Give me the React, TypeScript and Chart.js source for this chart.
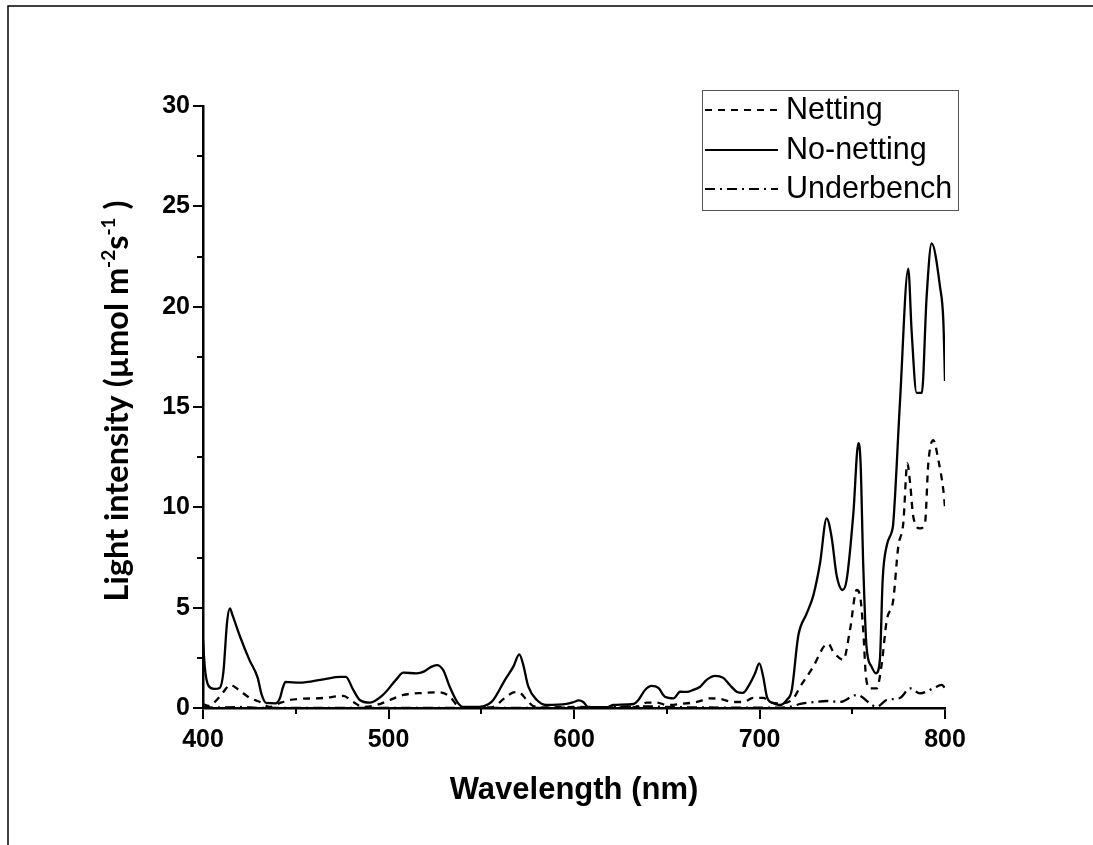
import React, { useEffect, useRef } from "react";
import { Chart, registerables } from "chart.js";

Chart.register(...registerables);

// ---------- data ----------
const noNettingNm = [
  400, 401, 403, 406, 409, 411, 413, 414.5, 416, 420, 425, 429.5, 431.5, 434, 439, 441.5, 443, 444.5,
  452, 465, 474, 477, 481, 484.5, 490, 497, 504, 508, 515, 519, 523, 526, 529.5, 533, 537, 540, 549,
  554, 556.5, 562.8, 567.3, 570.5, 572.5, 575.4, 580, 585, 596, 600, 602.5, 605, 607.7, 617.6, 621,
  632, 634.7, 638.3, 641.9, 645.5, 649, 653.6, 657.2, 660.8, 664.3, 668, 671.5, 676, 680.5, 684,
  687.7, 691, 694.9, 697.6, 699.9, 702, 704, 707.5, 711, 714.7, 717.4, 720.9, 725.4, 729, 732.6,
  736.2, 738.9, 741.6, 744.8, 747, 750.6, 753.3, 754.5, 755.9, 757.7, 760.4, 762.8, 764.9, 766.4,
  768.6, 771.3, 772.1, 775.7, 780.2, 782, 784.7, 787.5, 790.1, 792.8, 797.3, 799.1, 800,
];
const noNettingVal = [
  3.4, 2.0, 1.1, 0.95, 1.0, 1.8, 4.3, 4.96, 4.6, 3.55, 2.4, 1.5, 0.7, 0.25, 0.23, 0.5, 1.0, 1.3,
  1.26, 1.43, 1.55, 1.55, 0.9, 0.4, 0.27, 0.65, 1.4, 1.76, 1.73, 1.81, 2.05, 2.14, 1.89, 1.06, 0.31,
  0.06, 0.05, 0.2, 0.4, 1.4, 2.06, 2.67, 2.2, 1.06, 0.4, 0.15, 0.2, 0.3, 0.38, 0.3, 0.05, 0.03,
  0.15, 0.2, 0.4, 0.9, 1.1, 1.0, 0.56, 0.48, 0.81, 0.8, 0.9, 1.06, 1.4, 1.6, 1.5, 1.15, 0.81, 0.75,
  1.23, 1.73, 2.22, 1.56, 0.56, 0.23, 0.15, 0.4, 0.9, 3.6, 4.7, 5.6, 7.2, 9.45, 8.5, 6.6, 5.88, 6.4,
  9.7, 13.2, 12.2, 7.2, 3.05, 2.06, 1.73, 2.4, 6.4, 8.1, 8.78, 9.2, 15.2, 21.9, 18.8, 15.7, 15.7,
  20.5, 23.15, 21.0, 19.3, 16.3,
];

const nettingNm = [
  400, 403, 407.4, 411, 414.6, 420, 425.3, 430.7, 436, 441.5, 446.9, 464.9, 475.6, 481, 486.4,
  493.6, 500.8, 508, 518.8, 527.8, 533.2, 536.8, 540, 555, 562.8, 567.3, 570, 574.5, 578, 585, 600,
  630, 633.8, 639.2, 644.6, 650, 657.2, 666.2, 673.3, 678.7, 685.9, 691.3, 696.7, 702, 705.7, 711,
  718.3, 721.9, 729, 735.3, 737.1, 739.8, 745.2, 748.8, 752.4, 754.2, 755.9, 757.4, 759.6, 763.2,
  765.9, 768.6, 772.1, 774.8, 777.5, 779.7, 781.2, 782.9, 786.5, 789.2, 791, 793.7, 796.4, 799.1,
  800,
];
const nettingVal = [
  0.2, 0.1, 0.4, 0.8, 1.15, 0.85, 0.5, 0.3, 0.05, 0.25, 0.4, 0.5, 0.6, 0.3, 0.05, 0.15, 0.4, 0.65,
  0.75, 0.78, 0.55, 0.15, 0.03, 0.03, 0.5, 0.78, 0.8, 0.4, 0.1, 0.03, 0.05, 0.03, 0.05, 0.27, 0.27,
  0.15, 0.2, 0.3, 0.48, 0.45, 0.3, 0.3, 0.5, 0.5, 0.3, 0.23, 0.48, 1.06, 2.06, 3.14, 3.2, 2.8, 2.4,
  3.9, 5.88, 5.6, 3.9, 1.56, 0.98, 0.98, 2.2, 4.38, 5.38, 8.04, 9.2, 12.19, 11.2, 9.53, 8.95, 9.2,
  12.19, 13.35, 12.36, 10.86, 10.0,
];

const underbenchNm = [
  400, 405, 420, 430, 500, 550, 600, 620, 640, 650, 700, 712, 718.3, 721.9, 730, 736.2, 743.4,
  752.4, 763.2, 768.6, 775.7, 781.2, 786.5, 793.7, 798.2, 800,
];
const underbenchVal = [
  0.05, 0.02, 0.05, 0.0, 0.0, 0.0, 0.02, 0.05, 0.08, 0.05, 0.02, 0.02, 0.1, 0.2, 0.3, 0.35, 0.3,
  0.65, 0.06, 0.4, 0.5, 0.98, 0.73, 0.98, 1.15, 1.0,
];

const seriesNames = ["Netting", "No-netting", "Underbench"];
const xMin = 400;
const xMax = 800;
const xMajorStep = 100;
const xMinorTicks = [450, 550, 650, 750];
const yMin = 0;
const yMax = 30;
const yMajorStep = 5;
const yMinorTicks = [2.5, 7.5, 12.5, 17.5, 22.5, 27.5];
const xTitle = "Wavelength (nm)";
const yTitleParts: [string, boolean][] = [
  ["Light intensity (µmol m", false],
  ["-2", true],
  ["s", false],
  ["-1", true],
  [" )", false],
];

const dashes: number[][] = [[7, 6], [], [10, 5, 2, 5]];

const toPoints = (xs: number[], ys: number[]) => xs.map((x, i) => ({ x, y: ys[i] }));

const ARIAL = "'Liberation Sans', Arial, sans-serif";

export default function App() {
  const ref = useRef<HTMLCanvasElement | null>(null);

  useEffect(() => {
    document.body.style.margin = "0";
    const canvas = ref.current;
    if (!canvas) return;

    const deco = {
      id: "deco",
      afterDraw(chart: any) {
        const ctx = chart.ctx as CanvasRenderingContext2D;
        const area = chart.chartArea;
        const xs = chart.scales.x;
        const ys = chart.scales.y;
        ctx.save();
        // outer frame (top + left)
        ctx.strokeStyle = "#000";
        ctx.lineWidth = 1.5;
        ctx.beginPath();
        ctx.moveTo(8, 845);
        ctx.lineTo(8, 6);
        ctx.lineTo(1093, 6);
        ctx.stroke();

        // minor ticks
        ctx.lineWidth = 2;
        ctx.beginPath();
        xMinorTicks.forEach((v) => {
          const px = Math.round(xs.getPixelForValue(v));
          ctx.moveTo(px, area.bottom);
          ctx.lineTo(px, area.bottom + 6);
        });
        yMinorTicks.forEach((v) => {
          const py = Math.round(ys.getPixelForValue(v));
          ctx.moveTo(area.left, py);
          ctx.lineTo(area.left - 6, py);
        });
        ctx.stroke();

        // x title
        ctx.fillStyle = "#000";
        ctx.font = `bold 31px ${ARIAL}`;
        ctx.textAlign = "center";
        ctx.textBaseline = "middle";
        ctx.fillText(xTitle, (area.left + area.right) / 2, 790);

        // y title with superscripts
        ctx.save();
        ctx.translate(117, 401);
        ctx.rotate(-Math.PI / 2);
        const mainFont = `bold 32.5px Lato, 'Open Sans', sans-serif`;
        const supFont = `bold 19px Lato, 'Open Sans', sans-serif`;
        let total = 0;
        yTitleParts.forEach(([t, sup]) => {
          ctx.font = sup ? supFont : mainFont;
          total += ctx.measureText(t).width;
        });
        let cx = -total / 2;
        ctx.textAlign = "left";
        ctx.textBaseline = "alphabetic";
        yTitleParts.forEach(([t, sup]) => {
          ctx.font = sup ? supFont : mainFont;
          ctx.fillText(t, cx, sup ? -2 : 11);
          cx += ctx.measureText(t).width;
        });
        ctx.restore();

        // legend
        const lx = 702, ly = 90, lw = 256, lh = 120;
        ctx.strokeStyle = "#555";
        ctx.lineWidth = 1;
        ctx.strokeRect(lx + 0.5, ly + 0.5, lw, lh);
        const rows = [110, 150, 189];
        chart.data.datasets.forEach((ds: any, i: number) => {
          ctx.strokeStyle = "#000";
          ctx.lineWidth = 2.2;
          ctx.setLineDash(ds.borderDash || []);
          ctx.beginPath();
          ctx.moveTo(705, rows[i]);
          ctx.lineTo(778, rows[i]);
          ctx.stroke();
          ctx.setLineDash([]);
          ctx.fillStyle = "#000";
          ctx.font = `30.5px ${ARIAL}`;
          ctx.textAlign = "left";
          ctx.textBaseline = "middle";
          ctx.fillText(ds.label, 786, rows[i] + 1);
        });
        ctx.restore();
      },
    };

    const mk = (i: number, pts: { x: number; y: number }[]) => ({
      label: seriesNames[i],
      data: pts,
      borderColor: "#000",
      backgroundColor: "#000",
      borderWidth: 2.3,
      borderDash: dashes[i],
      pointRadius: 0,
      fill: false,
      cubicInterpolationMode: "monotone" as const,
    });

    const chart = new Chart(canvas, {
      type: "line",
      data: {
        datasets: [
          mk(0, toPoints(nettingNm, nettingVal)),
          mk(1, toPoints(noNettingNm, noNettingVal)),
          mk(2, toPoints(underbenchNm, underbenchVal)),
        ],
      },
      options: {
        animation: false,
        responsive: false,
        devicePixelRatio: 1,
        layout: { padding: { left: 0, right: 148, top: 106, bottom: 0 } },
        plugins: { legend: { display: false }, tooltip: { enabled: false }, title: { display: false } },
        scales: {
          x: {
            type: "linear",
            min: xMin,
            max: xMax,
            afterFit: (s: any) => {
              s.height = 137;
            },
            ticks: {
              stepSize: xMajorStep,
              color: "#000",
              padding: 6,
              font: { family: ARIAL, weight: "bold", size: 25 },
              maxRotation: 0,
            },
            grid: {
              display: true,
              drawOnChartArea: false,
              drawTicks: true,
              tickLength: 11,
              color: "#000",
              lineWidth: 2,
            },
            border: { display: true, color: "#000", width: 2.5 },
          },
          y: {
            type: "linear",
            min: yMin,
            max: yMax,
            afterFit: (s: any) => {
              s.width = 203;
            },
            ticks: {
              stepSize: yMajorStep,
              color: "#000",
              padding: 3,
              font: { family: ARIAL, weight: "bold", size: 25 },
            },
            grid: {
              display: true,
              drawOnChartArea: false,
              drawTicks: true,
              tickLength: 10,
              color: "#000",
              lineWidth: 2,
            },
            border: { display: true, color: "#000", width: 2.5 },
          },
        },
      },
      plugins: [deco],
    });

    return () => chart.destroy();
  }, []);

  return (
    <div style={{ width: 1093, height: 845, position: "relative", background: "#fff" }}>
      <canvas ref={ref} width={1093} height={845} style={{ display: "block" }} />
    </div>
  );
}
